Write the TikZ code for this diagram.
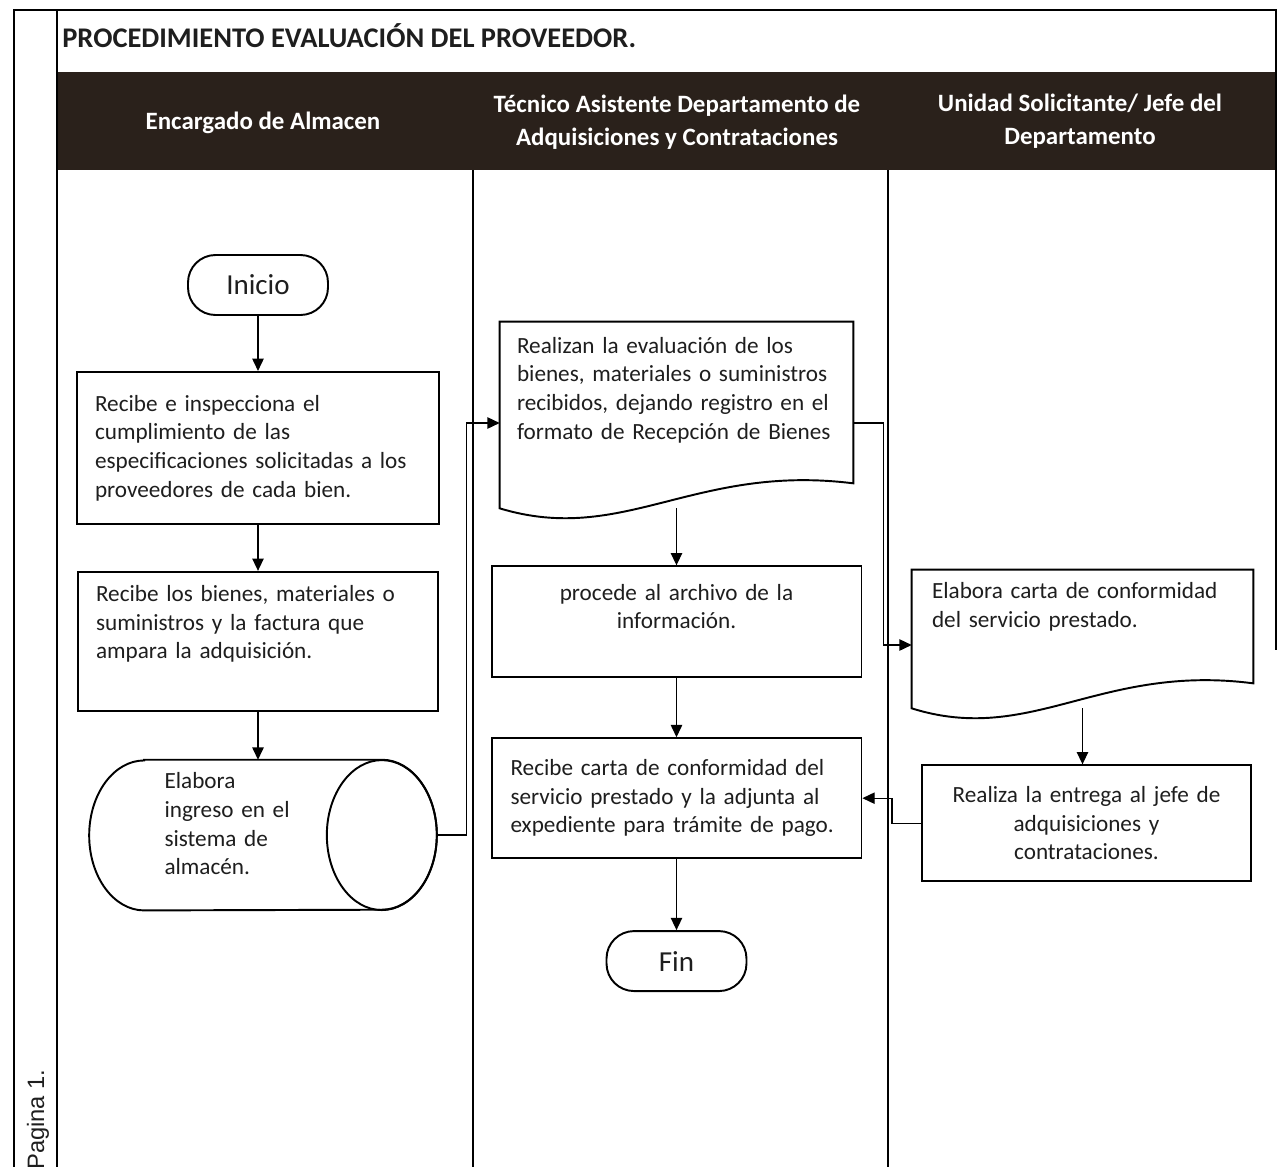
\documentclass[tikz,border=0pt]{standalone}
\usepackage{fontspec}
\setmainfont{Carlito}
\newfontfamily\arialfont{Liberation Sans}
\usetikzlibrary{shapes.geometric, arrows.meta, positioning, calc}
\definecolor{bandbrown}{RGB}{42,33,27}
\definecolor{inkgray}{RGB}{30,30,30}
\newcommand{\bodyfont}{\fontsize{13.2}{16.3}\selectfont}
\newcommand{\padline}[1]{\\\rule{0pt}{#1}}
\newcommand{\paddepth}[1]{\rule[-#1]{0pt}{#1}}
% outline of a document symbol drawn round a node
\newcommand{\docframe}[1]{%
  \draw[line width=1.1pt] (#1.north west) -- (#1.north east)
    -- ([yshift=0.5cm]#1.south east)
    .. controls ($(#1.south west)!0.55!(#1.south east)+(0,0.9cm)$)
    and ($(#1.south west)!0.35!(#1.south east)+(0,-0.75cm)$)
    .. (#1.south west) -- cycle;}
% outline of a lying cylinder drawn round a node
\newcommand{\cylframe}[1]{%
  \draw[line width=1.1pt] ([xshift=1.1cm]#1.north west) -- ([xshift=-1.1cm]#1.north east)
    arc[start angle=90, end angle=-90, x radius=1.1cm, y radius=1.5cm]
    -- ([xshift=1.1cm]#1.south west)
    arc[start angle=270, end angle=90, x radius=1.1cm, y radius=1.5cm] -- cycle;
  \draw[line width=1.1pt] ([xshift=-1.1cm]#1.east) ellipse[x radius=1.1cm, y radius=1.5cm];}

\begin{document}
\begin{tikzpicture}[x=0.02cm, y=-0.02cm,
        font=\bodyfont, text=inkgray,
        terminal/.style={draw, line width=1.1pt, rounded corners=0.55cm, minimum width=2.8cm, minimum height=1.2cm, font=\fontsize{16.5}{18}\selectfont},
        process/.style={draw, line width=1.1pt, align=left},
        docbox/.style={align=left},
        datastore/.style={align=left},
        lanehead/.style={text=white, align=center, font=\bfseries\fontsize{14.2}{18.8}\selectfont},
        arr/.style={-{Triangle[length=7pt, width=6.5pt]}, line width=0.7pt}
    ]
        \useasboundingbox (0,0) rectangle (1279,1167);

        % frame and lanes
        \fill[bandbrown] (57,72) rectangle (1276,170);
        \draw[line width=1pt] (14,1167) -- (14,10) -- (1276,10) -- (1276,650);
        \draw[line width=1pt] (57,10) -- (57,1167);
        \draw[line width=0.8pt] (473,170) -- (473,1167);
        \draw[line width=0.8pt] (888,170) -- (888,1167);

        \node[anchor=base west, inner sep=0pt, font=\bfseries\fontsize{16.2}{18}\selectfont] (titulo) at (62,47) {PROCEDIMIENTO EVALUACIÓN DEL PROVEEDOR.};
        \node[lanehead] (hAlmacen) at (263,123) {Encargado de Almacen};
        \node[lanehead] (hTecnico) at (677,122) {Técnico Asistente Departamento de\\Adquisiciones y Contrataciones};
        \node[lanehead] (hUnidad)  at (1080,121) {Unidad Solicitante/ Jefe del\\Departamento};
        \node[rotate=90, anchor=west, inner sep=0pt, font=\arialfont\fontsize{13.5}{15}\selectfont] (pagina) at (38,1170) {Pagina 1.};

        % Encargado de Almacen
        \node[terminal] (inicio) at (258,285) {Inicio};
        \node[process, minimum width=7.24cm, minimum height=3.04cm, text width=6.52cm, below=1.1cm of inicio] (inspecciona) {Recibe e inspecciona el\\cumplimiento de las\\especificaciones solicitadas a los\\proveedores de cada bien.};
        \node[process, minimum width=7.2cm, minimum height=2.78cm, text width=6.48cm, below=0.92cm of inspecciona] (recibe) {Recibe los bienes, materiales o\\suministros y la factura que\\ampara la adquisición.\padline{0.66cm}};
        \node[datastore, minimum width=6.94cm, minimum height=3cm, text width=3.94cm, below=0.96cm of recibe, xshift=0.1cm] (ingreso) {Elabora\\ingreso en el\\sistema de\\almacén.\paddepth{0.45cm}};
        \cylframe{ingreso}

        % Tecnico Asistente
        \node[docbox, minimum width=7.06cm, minimum height=3.72cm, text width=6.38cm] (evaluacion) at (676.5,415) {Realizan la evaluación de los\\bienes, materiales o suministros\\recibidos, dejando registro en el\\formato de Recepción de Bienes\padline{0.96cm}};
        \docframe{evaluacion}
        \node[process, align=center, minimum width=7.4cm, minimum height=2.22cm, text width=6.8cm, below=1.14cm of evaluacion] (archivo) {procede al archivo de la\\información.\padline{0.58cm}};
        \node[process, minimum width=7.4cm, minimum height=2.4cm, text width=6.64cm, below=1.18cm of archivo] (carta) {Recibe carta de conformidad del\\servicio prestado y la adjunta al\\expediente para trámite de pago.};
        \node[terminal, below=1.42cm of carta] (fin) {Fin};

        % Unidad Solicitante
        \node[docbox, minimum width=6.82cm, minimum height=2.76cm, text width=6.02cm] (conformidad) at (1082.5,639) {Elabora carta de conformidad\\del servicio prestado.\padline{1.24cm}};
        \docframe{conformidad}
        \node[process, align=center, minimum width=6.58cm, minimum height=2.32cm, text width=6cm, below=1.12cm of conformidad, xshift=0.08cm] (entrega) {Realiza la entrega al jefe de\\adquisiciones y\\contrataciones.};

        \draw[arr] (inicio) -- (inspecciona);
        \draw[arr] (inspecciona) -- (recibe);
        \draw[arr] (recibe.south) -- (recibe.south |- ingreso.north);
        \draw[arr] (ingreso.east) -- ++(30,0) |- ([yshift=-0.16cm]evaluacion.west);
        \draw[arr] (evaluacion) -- (archivo);
        \draw[arr] ([yshift=-0.16cm]evaluacion.east) -- ++(30,0) |- ([yshift=-0.12cm]conformidad.west);
        \draw[arr] (archivo) -- (carta);
        \draw[arr] (carta) -- (fin);
        \draw[arr] (conformidad.south) -- (conformidad.south |- entrega.north);
        \draw[arr] (entrega.west) -- ++(-29,0) |- (carta.east);
    \end{tikzpicture}
\end{document}
